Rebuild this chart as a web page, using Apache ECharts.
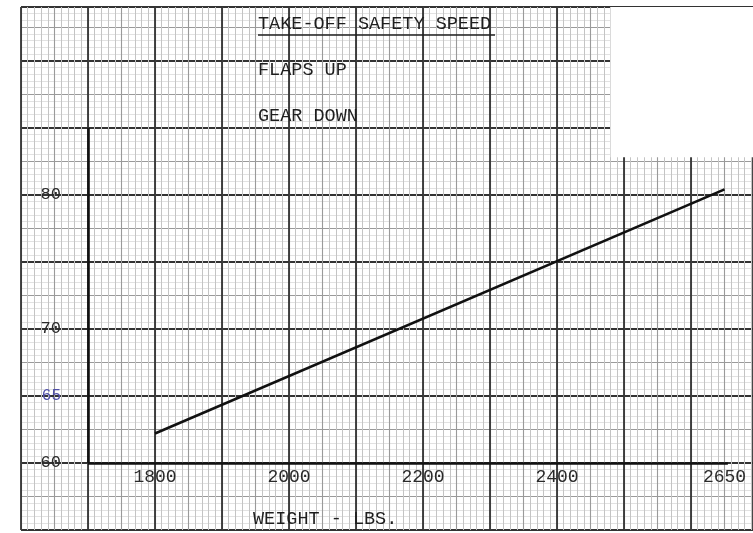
<!DOCTYPE html>
<html>
<head>
<meta charset="utf-8">
<script src="https://cdn.jsdelivr.net/npm/echarts@6/dist/echarts.min.js"></script>
<style>
  html, body { margin: 0; padding: 0; background: #fff; }
  #chart { width: 753px; height: 533px; }
</style>
</head>
<body>
<div id="chart"></div>
<script>
// ---- data ----
var weights = [1800, 2650];          // lbs
var speeds = [62.2, 80.4];           // take-off safety speed
var xTickLabels = [1800, 2000, 2200, 2400, 2650];
var yTickLabels = [60, 65, 70, 80];
var paperX = [1600, 2692.5];         // extent of the graph paper (lbs)
var paperY = [55, 94];               // extent of the graph paper (speed)
var frameX = [1700, 2655];
var frameY = [60, 85];
var blankX = [2480, 2700];           // unprinted corner of the sheet
var blankY = [82.8, 95];

var FONT = '"Liberation Mono", "DejaVu Sans Mono", monospace';
var chart = echarts.init(document.getElementById('chart'));

var points = weights.map(function (w, i) { return [w, speeds[i]]; });

chart.setOption({
  animation: false,
  backgroundColor: '#ffffff',
  grid: { left: 21, right: 0, top: 7, bottom: 3, containLabel: false },
  xAxis: [
    {
      type: 'value', min: paperX[0], max: paperX[1], interval: 50,
      position: 'bottom',
      axisLine: { show: false }, axisTick: { show: false }, axisLabel: { show: false },
      splitLine: { show: true, lineStyle: { color: '#9a9a9a', width: 1.1 } },
      minorTick: { show: false, splitNumber: 5 },
      minorSplitLine: { show: true, lineStyle: { color: '#c4c4c4', width: 1 } }
    },
    {
      type: 'value', min: paperX[0], max: paperX[1], interval: 100,
      position: 'bottom', offset: -67,
      axisLine: { show: false }, axisTick: { show: false },
      axisLabel: {
        show: true, customValues: xTickLabels, margin: 5,
        color: '#2a2a2a', fontFamily: FONT, fontSize: 18,
        formatter: function (v) { return String(v); }
      },
      splitLine: { show: true, lineStyle: { color: '#333333', width: 1.8 } }
    }
  ],
  yAxis: [
    {
      type: 'value', min: paperY[0], max: paperY[1], interval: 2.5,
      position: 'left',
      axisLine: { show: false }, axisTick: { show: false }, axisLabel: { show: false },
      splitLine: { show: true, lineStyle: { color: '#9a9a9a', width: 1.1 } },
      minorTick: { show: false, splitNumber: 5 },
      minorSplitLine: { show: true, lineStyle: { color: '#e2e2e2', width: 1 } }
    },
    {
      type: 'value', min: paperY[0], max: paperY[1], interval: 5,
      position: 'left', offset: -67,
      axisLine: { show: false }, axisTick: { show: false },
      axisLabel: {
        show: true, customValues: yTickLabels, margin: 27,
        color: '#2a2a2a', fontFamily: FONT, fontSize: 17,
        formatter: function (v) { return v === 65 ? '{b|65}' : String(v); },
        rich: { b: { color: '#4e4ea8', fontFamily: FONT, fontSize: 16 } }
      },
      splitLine: { show: true, lineStyle: { color: '#333333', width: 1.8 } }
    }
  ],
  series: [
    {
      type: 'line',
      xAxisIndex: 1, yAxisIndex: 1,
      data: points,
      symbol: 'none',
      lineStyle: { color: '#111111', width: 2.6 },
      z: 5,
      markArea: {
        silent: true,
        itemStyle: { color: '#ffffff', opacity: 1 },
        data: [[{ coord: [blankX[0], blankY[0]] }, { coord: [blankX[1], blankY[1]] }]]
      },
      markLine: {
        silent: true, symbol: 'none', label: { show: false },
        lineStyle: { color: '#111111', width: 2.6, type: 'solid' },
        data: [
          [{ coord: [frameX[0], frameY[0]] }, { coord: [frameX[0], frameY[1]] }],
          [{ coord: [frameX[0], frameY[0]] }, { coord: [frameX[1], frameY[0]] }]
        ]
      }
    }
  ],
  graphic: [
    { type: 'text', left: 258, top: 15, z: 10,
      style: { text: 'TAKE-OFF SAFETY SPEED', font: '18.5px ' + FONT, fill: '#1e1e1e' } },
    { type: 'line', z: 10, shape: { x1: 258, y1: 35, x2: 495, y2: 35 },
      style: { stroke: '#1e1e1e', lineWidth: 1.5 } },
    { type: 'text', left: 258, top: 61, z: 10,
      style: { text: 'FLAPS UP', font: '18.5px ' + FONT, fill: '#1e1e1e' } },
    { type: 'text', left: 258, top: 107, z: 10,
      style: { text: 'GEAR DOWN', font: '18.5px ' + FONT, fill: '#1e1e1e' } },
    { type: 'text', left: 253, top: 510, z: 10,
      style: { text: 'WEIGHT - LBS.', font: '18.5px ' + FONT, fill: '#1e1e1e' } }
  ]
});
</script>
</body>
</html>
